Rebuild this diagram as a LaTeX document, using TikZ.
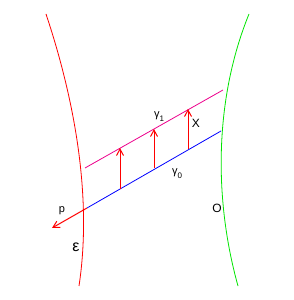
\documentclass[tikz,border=0pt]{standalone}
\usepackage{fontspec}
\setmainfont{Liberation Sans}
\usepackage{tikz}
\usetikzlibrary{arrows.meta,positioning}
\colorlet{geored}{red}
\colorlet{geogreen}{green!90!black}
\colorlet{geoblue}{blue}
\colorlet{geomagenta}{magenta}
\tikzset{
  geocurve/.style={line width=0.8pt},
  geoline/.style={line width=0.8pt},
  geovec/.style={-{Straight Barb[length=6.5pt,width=7pt]},line width=1pt,geored},
  geolabel/.style={font=\fontsize{11}{13}\selectfont,inner sep=0pt}
}
\newcommand{\geosub}[2]{#1\raisebox{-4pt}{\fontsize{8}{9}\selectfont #2}}

\begin{document}
\begin{tikzpicture}[x=1pt,y=1pt]
  \useasboundingbox (0,0) rectangle (294,300);
  % the two surfaces
  \draw[geocurve,geored] (46,286) .. controls (76,196) and (92,100) .. (79,14);
  \draw[geocurve,geogreen] (249,286) .. controls (214,200) and (214,100) .. (238,14);

  % ends of the two curves gamma_0 and gamma_1
  \coordinate (e0) at (87,92);
  \coordinate (o0) at (221,169);
  \coordinate (e1) at (85,132);
  \coordinate (o1) at (223,210);
  \draw[geoline,geoblue] (e0) -- (o0);
  \draw[geoline,geomagenta] (e1) -- (o1);

  % the field X between them
  \coordinate (a1) at (120,111);
  \coordinate (b1) at (120,152);
  \coordinate (a2) at (154,132);
  \coordinate (b2) at (154,171);
  \coordinate (a3) at (188,151);
  \coordinate (b3) at (188,191);
  \foreach \k in {1,2,3}{
    \draw[geovec] (a\k) -- (b\k);
  }
  \coordinate (ptip) at (52,72);
  \draw[geovec] (e0) -- (ptip);

  \node[geolabel] (plabel) at (62,89) {p};
  \node[geolabel,font=\fontsize{16}{18}\selectfont] (elabel) at (76,53) {ε};
  \node[geolabel,font=\fontsize{12}{14}\selectfont] (olabel) at (217,92) {O};
  \node[geolabel,font=\fontsize{12}{14}\selectfont] (xlabel) at (196,177) {X};
  \node[geolabel] (g1label) at (159,183) {\geosub{γ}{1}};
  \node[geolabel] (g0label) at (177,126) {\geosub{γ}{0}};
\end{tikzpicture}
\end{document}
